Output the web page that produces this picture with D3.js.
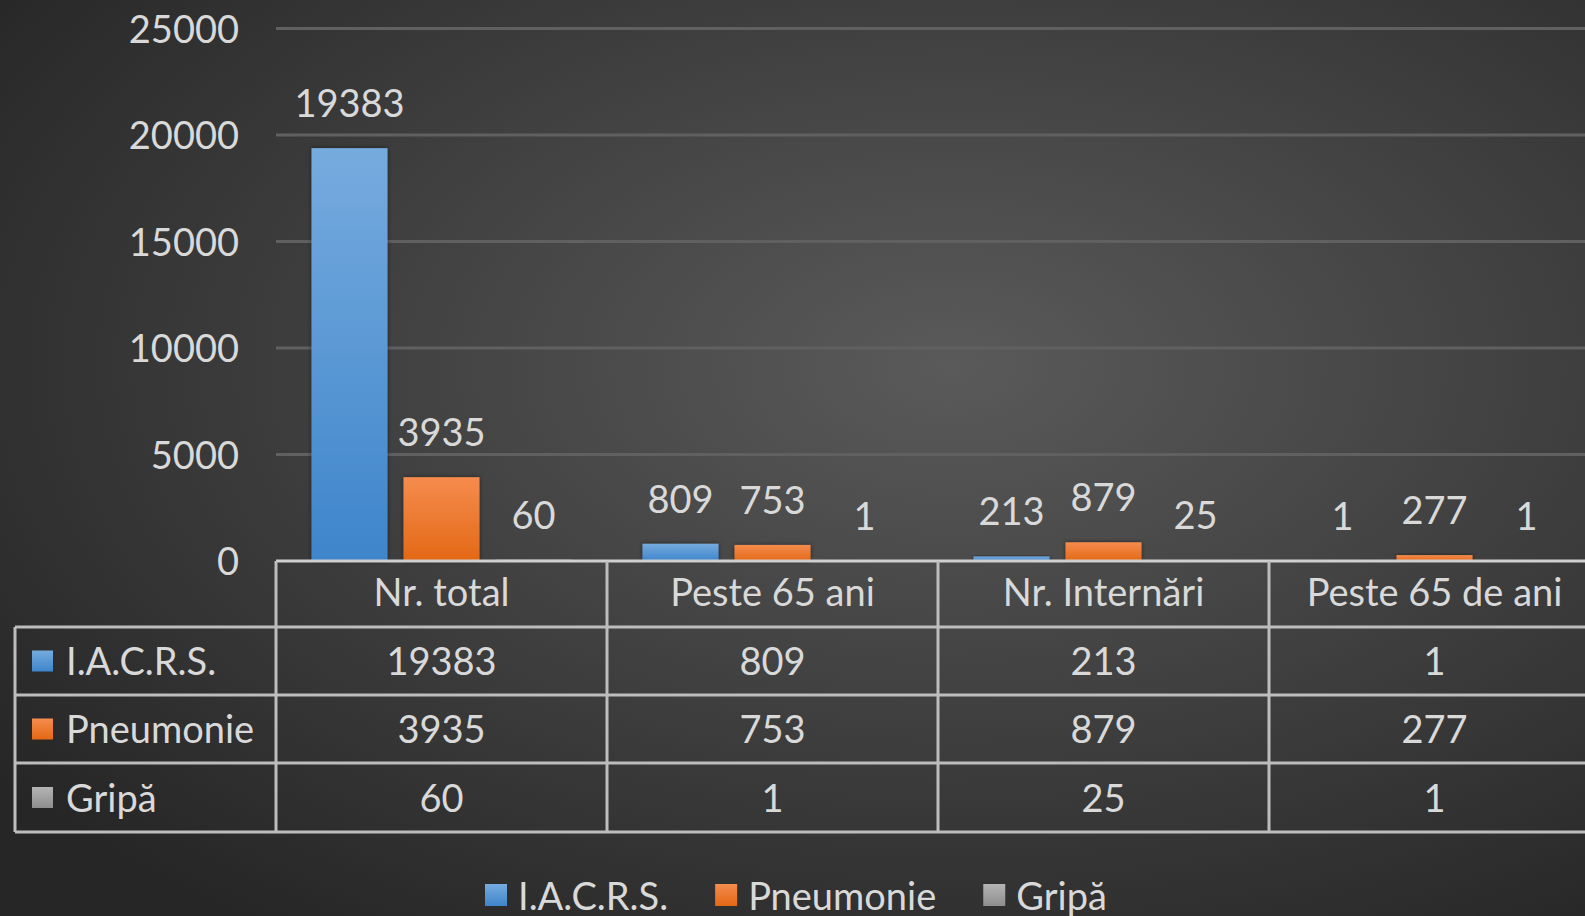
<!DOCTYPE html>
<html>
<head>
<meta charset="utf-8">
<script src="https://cdn.jsdelivr.net/npm/d3@7"></script>
<style>
  html, body { margin: 0; padding: 0; background: #2b2b2b; overflow: hidden; }
  text { font-family: Lato, "Open Sans", sans-serif; fill: #d9d9d9; }
</style>
</head>
<body>
<div id="chart"></div>
<script>
// data
var categories = ["Nr. total", "Peste 65 ani", "Nr. Internări", "Peste 65 de ani"];
var seriesNames = ["I.A.C.R.S.", "Pneumonie", "Gripă"];
var iacrs = [19383, 809, 213, 1];
var pneumonie = [3935, 753, 879, 277];
var gripa = [60, 1, 25, 1];
var yTicks = [0, 5000, 10000, 15000, 20000, 25000];

var seriesValues = [iacrs, pneumonie, gripa];
var colors = [["#76abde", "#3e85cb"], ["#f58c4e", "#e36815"], ["#b4b4b4", "#8e8e8e"]];

var W = 1585, H = 916;
var FS = 38;

var svg = d3.select('#chart').append('svg')
    .attr('width', W).attr('height', H);

var defs = svg.append('defs');
var bg = defs.append('radialGradient').attr('id', 'bg')
    .attr('cx', '0.6').attr('cy', '0.4').attr('r', '0.75');
bg.append('stop').attr('offset', '0').attr('stop-color', '#5a5a5a');
bg.append('stop').attr('offset', '1').attr('stop-color', '#262626');

colors.forEach(function(c, i){
    var g = defs.append('linearGradient').attr('id', 'bar' + i)
        .attr('x1', 0).attr('y1', 0).attr('x2', 0).attr('y2', 1);
    g.append('stop').attr('offset', '0').attr('stop-color', c[0]);
    g.append('stop').attr('offset', '1').attr('stop-color', c[1]);
});

var shadow = defs.append('filter').attr('id', 'shadow')
    .attr('x', '-20%').attr('y', '-20%').attr('width', '140%').attr('height', '140%');
shadow.append('feDropShadow').attr('dx', 0).attr('dy', 0)
    .attr('stdDeviation', 2).attr('flood-color', '#000').attr('flood-opacity', 0.5);

svg.append('rect').attr('width', W).attr('height', H).attr('fill', 'url(#bg)');

// scales
var x = d3.scaleBand().domain(categories).range([276, 1600]);
var xs = d3.scaleBand().domain(seriesNames).range([35.5, 295.5]).paddingInner(16 / 92);
var y = d3.scaleLinear().domain([0, 25000]).range([561, 28.5]);

// gridlines
svg.append('g').selectAll('line').data(yTicks.slice(1)).enter()
    .append('line')
    .attr('x1', 276).attr('x2', W)
    .attr('y1', function(d){ return y(d); }).attr('y2', function(d){ return y(d); })
    .attr('stroke', '#606060').attr('stroke-width', 3);

// y axis labels
var yAxis = d3.axisLeft(y).tickValues(yTicks).tickSize(0).tickPadding(0)
    .tickFormat(function(d){ return d; });
var ya = svg.append('g').attr('transform', 'translate(239,0)').call(yAxis);
ya.select('.domain').remove();
ya.selectAll('text').attr('font-size', FS).attr('font-family', null)
    .attr('fill', null).attr('dy', '0.36em');

// bars
var groups = svg.append('g').selectAll('g').data(seriesNames).enter()
    .append('g');

groups.each(function(s, si){
    var g = d3.select(this);
    var vals = seriesValues[si];
    g.selectAll('rect').data(vals).enter().append('rect')
        .attr('x', function(d, i){ return x(categories[i]) + xs(s); })
        .attr('width', xs.bandwidth())
        .attr('y', function(d){ return y(d); })
        .attr('height', function(d){ return y(0) - y(d); })
        .attr('fill', 'url(#bar' + si + ')')
        .attr('filter', 'url(#shadow)');
    g.selectAll('text').data(vals).enter().append('text')
        .attr('x', function(d, i){ return x(categories[i]) + xs(s) + xs.bandwidth() / 2; })
        .attr('y', function(d){ return y(d) - 46; })
        .attr('text-anchor', 'middle')
        .attr('dominant-baseline', 'central')
        .attr('font-size', FS)
        .text(function(d){ return d; });
});

// data table
var rowY = [561, 627, 695, 763, 832];
var tableLeft = 15;
var lineColor = '#bdbdbd';
var tbl = svg.append('g');

// horizontal lines
tbl.append('line').attr('x1', 276).attr('x2', W).attr('y1', rowY[0]).attr('y2', rowY[0])
    .attr('stroke', '#cfcfcf').attr('stroke-width', 3);
tbl.selectAll('.hl').data(rowY.slice(1)).enter().append('line')
    .attr('x1', tableLeft).attr('x2', W)
    .attr('y1', function(d){ return d; }).attr('y2', function(d){ return d; })
    .attr('stroke', lineColor).attr('stroke-width', 3);

// vertical lines
tbl.append('line').attr('x1', tableLeft).attr('x2', tableLeft)
    .attr('y1', rowY[1]).attr('y2', rowY[4])
    .attr('stroke', lineColor).attr('stroke-width', 3);
tbl.selectAll('.vl').data(categories).enter().append('line')
    .attr('x1', function(d){ return x(d); }).attr('x2', function(d){ return x(d); })
    .attr('y1', rowY[0]).attr('y2', rowY[4])
    .attr('stroke', lineColor).attr('stroke-width', 3);

// header
tbl.selectAll('.hd').data(categories).enter().append('text')
    .attr('x', function(d){ return x(d) + x.bandwidth() / 2; })
    .attr('y', (rowY[0] + rowY[1]) / 2 - 3)
    .attr('text-anchor', 'middle').attr('dominant-baseline', 'central')
    .attr('font-size', FS)
    .text(function(d){ return d; });

// rows
seriesNames.forEach(function(s, si){
    var cy = (rowY[si + 1] + rowY[si + 2]) / 2;
    tbl.append('rect').attr('x', 32).attr('y', cy - 10.5).attr('width', 21).attr('height', 21)
        .attr('fill', 'url(#bar' + si + ')');
    tbl.append('text').attr('x', 66).attr('y', cy - 1)
        .attr('dominant-baseline', 'central').attr('font-size', FS).text(s);
    tbl.selectAll('.v' + si).data(seriesValues[si]).enter().append('text')
        .attr('x', function(d, i){ return x(categories[i]) + x.bandwidth() / 2; })
        .attr('y', cy - 1)
        .attr('text-anchor', 'middle').attr('dominant-baseline', 'central')
        .attr('font-size', FS)
        .text(function(d){ return d; });
});

// legend at bottom
var leg = svg.append('g');
var legY = 895;
var cx = 485;
seriesNames.forEach(function(s, si){
    leg.append('rect').attr('x', cx).attr('y', legY - 11).attr('width', 22).attr('height', 22)
        .attr('fill', 'url(#bar' + si + ')');
    var t = leg.append('text').attr('x', cx + 33).attr('y', legY)
        .attr('dominant-baseline', 'central').attr('font-size', FS).text(s);
    cx += 33 + t.node().getComputedTextLength() + 47;
});
</script>
</body>
</html>
